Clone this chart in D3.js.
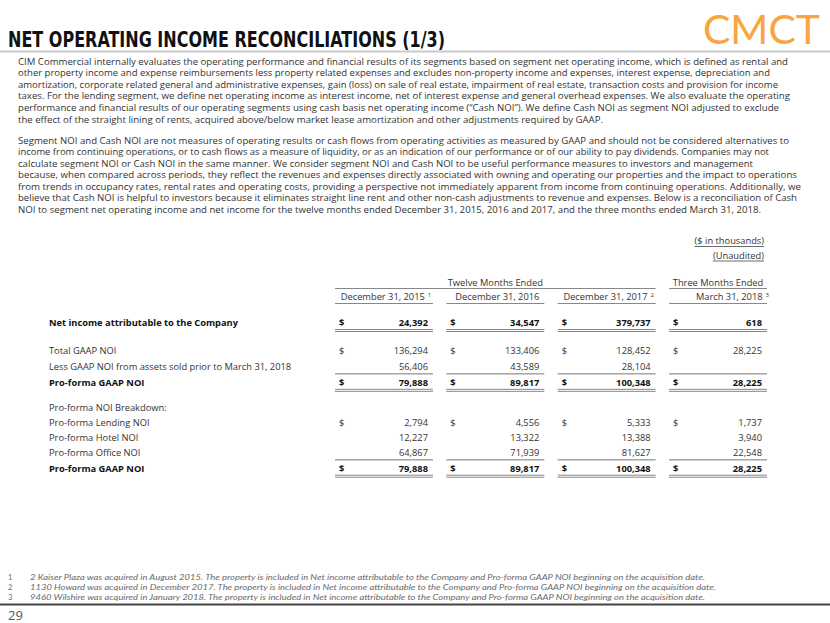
<!DOCTYPE html>
<html><head><meta charset="utf-8">
<script src="https://cdn.jsdelivr.net/npm/d3@7"></script>
<style>body{margin:0;background:#fff}svg{display:block}</style>
</head><body><svg id="c" width="830" height="623"></svg>
<script>
// ---------- DATA ----------
const title = "NET OPERATING INCOME RECONCILIATIONS (1/3)";
const logo = "CMCT";
const para1 = [
  "CIM Commercial internally evaluates the operating performance and financial results of its segments based on segment net operating income, which is defined as rental and",
  "other property income and expense reimbursements less property related expenses and excludes non-property income and expenses, interest expense, depreciation and",
  "amortization, corporate related general and administrative expenses, gain (loss) on sale of real estate, impairment of real estate, transaction costs and provision for income",
  "taxes.  For the lending segment, we define net operating income as interest income, net of interest expense and general overhead expenses. We also evaluate the operating",
  "performance and financial results of our operating segments  using cash basis net operating income (\u201cCash NOI\u201d).  We define Cash NOI as segment NOI adjusted to exclude",
  "the effect of the straight lining of rents, acquired above/below market lease amortization and other adjustments required by GAAP."
];
const para2 = [
  "Segment NOI and Cash NOI are not measures of operating results or cash flows from operating activities as measured by GAAP and should not be considered alternatives to",
  "income from continuing operations, or to cash flows as a measure of liquidity, or as an indication of our performance or of our ability to pay dividends. Companies may not",
  "calculate segment  NOI or Cash NOI in the same manner. We consider segment NOI and Cash NOI to be useful performance measures to investors and management",
  "because, when compared across periods, they reflect the revenues and expenses directly associated with owning and operating our properties and the impact to operations",
  "from trends in occupancy rates, rental rates and operating costs, providing a perspective not immediately apparent from income from continuing operations.  Additionally, we",
  "believe that Cash NOI is helpful to investors because it eliminates straight line rent and other non-cash adjustments to revenue and expenses.  Below is a reconciliation of Cash",
  "NOI to segment net operating income and net income for the twelve months ended December 31, 2015, 2016 and 2017, and the three months ended March 31, 2018."
];
const unitsNotes = ["($ in thousands)", "(Unaudited)"];
const groupHeaders = ["Twelve Months Ended", "Three Months Ended"];
const periods = ["December 31, 2015", "December 31, 2016", "December 31, 2017", "March 31, 2018"];
const periodNotes = ["1", "", "2", "3"];
const rowLabels = [
  "Net income attributable to the Company",
  "Total GAAP NOI",
  "Less GAAP NOI from assets sold prior to March 31, 2018",
  "Pro-forma GAAP NOI",
  "Pro-forma NOI Breakdown:",
  "Pro-forma Lending NOI",
  "Pro-forma Hotel NOI",
  "Pro-forma Office NOI",
  "Pro-forma GAAP NOI"
];
const netIncome      = [24392, 34547, 379737, 618];
const totalGaapNoi   = [136294, 133406, 128452, 28225];
const lessSoldNoi    = [56406, 43589, 28104, null];
const proformaGaap   = [79888, 89817, 100348, 28225];
const lendingNoi     = [2794, 4556, 5333, 1737];
const hotelNoi       = [12227, 13322, 13388, 3940];
const officeNoi      = [64867, 71939, 81627, 22548];
const footnoteNums = ["1", "2", "3"];
const footnotes = [
  "2 Kaiser Plaza was acquired in August 2015. The property is included in Net income attributable to the Company and Pro-forma GAAP NOI beginning on the acquisition date.",
  "1130 Howard was acquired in December 2017. The property is included in Net income attributable to the Company and Pro-forma GAAP NOI beginning on the acquisition date.",
  "9460 Wilshire was acquired in January 2018. The property is included in Net income attributable to the Company and Pro-forma GAAP NOI beginning on the acquisition date."
];
const pageNumber = "29";

// ---------- TABLE STRUCTURE ----------
const rowValues = [netIncome, totalGaapNoi, lessSoldNoi, proformaGaap, null, lendingNoi, hotelNoi, officeNoi, proformaGaap];
const rowBold   = [true, false, false, true, false, false, false, false, true];
const rowDollar = [true, true, false, true, false, true, false, false, true];
const rowRule   = ["double", null, "single", "double", null, null, null, "single", "double"];

// ---------- LAYOUT ----------
const para1Ends = [788, 770, 778, 790, 779, 603];
const para2Ends = [789, 769, 753, 797, 801, 797, 761];
const footEnds = [705, 716, 705];
const rowSlots = [0, 1.8, 2.83, 3.86, 5.45, 6.42, 7.4, 8.38, 9.4];

const FONT = "'Century Gothic','URW Gothic','Open Sans',sans-serif";
const svg = d3.select("#c");
svg.append("rect").attr("width", 830).attr("height", 623).attr("fill", "#fff");

// Title
svg.append("text").attr("x", 8).attr("y", 47)
  .attr("font-family", "'DejaVu Sans Condensed','DejaVu Sans',sans-serif")
  .attr("font-weight", "bold").attr("font-size", 21.5).attr("fill", "#111")
  .attr("textLength", 437).attr("lengthAdjust", "spacingAndGlyphs")
  .text(title);
svg.append("line").attr("x1", 0).attr("x2", 830).attr("y1", 51.5).attr("y2", 51.5)
  .attr("stroke", "#c9c9c9").attr("stroke-width", 2);
svg.append("text").attr("x", 703).attr("y", 44)
  .attr("font-family", "Lato,'Open Sans',sans-serif").attr("font-weight", 400)
  .attr("font-size", 41).attr("fill", "#F9A541")
  .attr("textLength", 117).attr("lengthAdjust", "spacingAndGlyphs")
  .text(logo);

// Paragraphs
function para(lines, ends, y0, step) {
  svg.append("g").selectAll("text").data(lines).join("text")
    .attr("x", 18).attr("y", (d, i) => y0 + i * step)
    .attr("font-family", FONT).attr("font-size", 9.4).attr("fill", "#333")
    .attr("textLength", (d, i) => ends[i] - 18).attr("lengthAdjust", "spacingAndGlyphs")
    .text(d => d);
}
para(para1, para1Ends, 64.5, 11.6);
para(para2, para2Ends, 143.5, 11.5);

// Table
const x = d3.scaleBand().domain(periods).range([335, 767]).paddingInner(0.12).paddingOuter(0);
const y = d3.scaleLinear().domain([0, 1]).range([323, 338.5]);
const fmt = d3.format(",");
const FS = 9.3;
const tbl = svg.append("g").attr("font-family", FONT).attr("fill", "#333");

// Units
unitsNotes.forEach((t, i) => {
  const tx = tbl.append("text").attr("x", 764).attr("y", 244 + i * 14.5)
    .attr("text-anchor", "end").attr("font-size", FS).text(t);
  const w = tx.node().getComputedTextLength();
  tbl.append("line").attr("x1", 764 - w).attr("x2", 764)
    .attr("y1", 246.5 + i * 14.5).attr("y2", 246.5 + i * 14.5).attr("stroke", "#444").attr("stroke-width", 0.8);
});

// group headers
const groups = [[periods[0], periods[2]], [periods[3], periods[3]]];
groups.forEach((g, i) => {
  const x1 = x(g[0]), x2 = x(g[1]) + x.bandwidth();
  tbl.append("text").attr("x", (x1 + x2) / 2).attr("y", 285.5).attr("text-anchor", "middle")
    .attr("font-size", FS).text(groupHeaders[i]);
  tbl.append("line").attr("x1", x1).attr("x2", x2).attr("y1", 288.5).attr("y2", 288.5)
    .attr("stroke", "#888").attr("stroke-width", 1.2);
});
// period headers
periods.forEach((p, i) => {
  const last = i === periods.length - 1;
  const t = tbl.append("text").attr("y", 300).attr("font-size", FS)
    .attr("x", last ? x(p) + x.bandwidth() + 2 : x(p) + x.bandwidth() / 2 + 2)
    .attr("text-anchor", last ? "end" : "middle");
  t.append("tspan").text(p);
  if (periodNotes[i]) t.append("tspan").attr("dx", 3).attr("dy", -3).attr("font-size", 6).text(periodNotes[i]);
  tbl.append("line").attr("x1", x(p)).attr("x2", x(p) + x.bandwidth()).attr("y1", 303.5).attr("y2", 303.5)
    .attr("stroke", "#888").attr("stroke-width", 1.2);
});

// rows
rowLabels.forEach((lab, r) => {
  const yc = y(rowSlots[r]);
  const bold = rowBold[r];
  tbl.append("text").attr("x", 49).attr("y", yc).attr("dy", "0.35em")
    .attr("font-size", FS).attr("font-weight", bold ? "bold" : "normal")
    .attr("fill", bold ? "#111" : "#333").text(lab);
  const vals = rowValues[r];
  if (!vals) return;
  periods.forEach((p, i) => {
    const x0 = x(p), x1 = x(p) + x.bandwidth();
    if (rowDollar[r]) {
      tbl.append("text").attr("x", x0 + 4).attr("y", yc).attr("dy", "0.35em")
        .attr("font-size", FS).attr("font-weight", bold ? "bold" : "normal")
        .attr("fill", bold ? "#111" : "#333").text("$");
    }
    if (vals[i] != null) {
      tbl.append("text").attr("x", x1 - 5).attr("y", yc).attr("dy", "0.35em")
        .attr("text-anchor", "end").attr("font-size", FS)
        .attr("font-weight", bold ? "bold" : "normal")
        .attr("fill", bold ? "#111" : "#333").text(fmt(vals[i]));
    }
    if (rowRule[r] === "single") {
      tbl.append("line").attr("x1", x0).attr("x2", x1).attr("y1", yc + 7).attr("y2", yc + 7)
        .attr("stroke", "#777").attr("stroke-width", 1);
    } else if (rowRule[r] === "double") {
      [6.5, 8.5].forEach(o => tbl.append("line").attr("x1", x0).attr("x2", x1)
        .attr("y1", yc + o).attr("y2", yc + o).attr("stroke", "#888").attr("stroke-width", 1));
    }
  });
});

// Footnotes
const fn = svg.append("g").attr("font-family", "Lato,'Open Sans',sans-serif").attr("font-size", 7.6).attr("fill", "#6a6a6a");
footnotes.forEach((t, i) => {
  const yy = 580 + i * 10;
  fn.append("text").attr("x", 8).attr("y", yy).text(footnoteNums[i]);
  fn.append("text").attr("x", 30).attr("y", yy).attr("font-style", "italic")
    .attr("textLength", footEnds[i] - 30).attr("lengthAdjust", "spacingAndGlyphs").text(t);
});
svg.append("line").attr("x1", 0).attr("x2", 830).attr("y1", 604.5).attr("y2", 604.5)
  .attr("stroke", "#444").attr("stroke-width", 2);
svg.append("text").attr("x", 8).attr("y", 620).attr("font-family", FONT)
  .attr("font-size", 13).attr("fill", "#555").text(pageNumber);
</script></body></html>
